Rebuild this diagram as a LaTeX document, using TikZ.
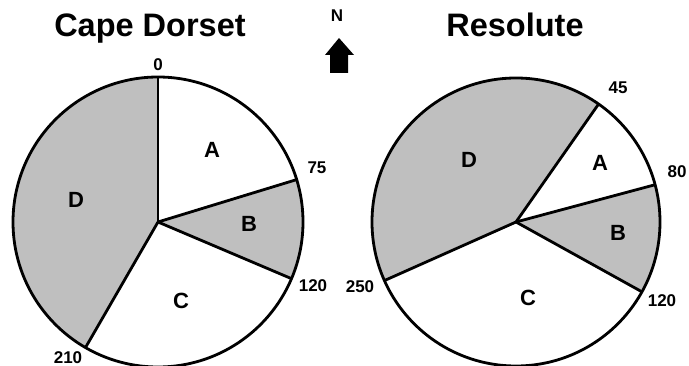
\documentclass[tikz,border=0pt]{standalone}
\usepackage{fontspec}
\setmainfont{Liberation Sans}
\usetikzlibrary{positioning}

\tikzset{
  title/.style={font=\fontsize{32.5}{32.5}\selectfont\bfseries,inner sep=0pt,anchor=base},
  seclabel/.style={font=\fontsize{22}{22}\selectfont\bfseries,inner sep=0pt},
  anglabel/.style={font=\fontsize{17}{17}\selectfont\bfseries,inner sep=0pt},
  piefill/.style={fill=black!25},
  pieline/.style={line width=2.8pt}
}

% one slice: centre, bearing from, bearing to, radius, style
\newcommand{\pieslice}[5]{
  \fill[#5] (#1) -- ++(#2-90:#4) arc[start angle=#2-90,end angle=#3-90,radius=#4] -- cycle;
}

\begin{document}
\begin{tikzpicture}[x=1pt,y=-1pt]
        \useasboundingbox (0,0) rectangle (689,366);
        \coordinate (cd) at (158,222);
        \coordinate (rs) at (516,222);

        % Cape Dorset
        \pieslice{cd}{0}{73}{145}{white}
        \pieslice{cd}{73}{113}{145}{piefill}
        \pieslice{cd}{113}{210}{145}{white}
        \pieslice{cd}{210}{360}{145}{piefill}
        \foreach \b in {0,73,113,210}
          \draw[pieline] (cd) -- ++(\b-90:145);
        \draw[pieline] (cd) circle[radius=145];

        % Resolute
        \pieslice{rs}{35}{75}{144}{white}
        \pieslice{rs}{75}{119}{144}{piefill}
        \pieslice{rs}{119}{246}{144}{white}
        \pieslice{rs}{246}{395}{144}{piefill}
        \foreach \b in {35,75,119,246}
          \draw[pieline] (rs) -- ++(\b-90:144);
        \draw[pieline] (rs) circle[radius=144];

        %% titles and north arrow
        \node[title] (cdtitle) at (150,37) {Cape Dorset};
        \node[title] (rstitle) at (515,37) {Resolute};
        \node[anglabel] (north) at (337,16) {N};
        \fill (339,38) -- (354,55) -- (348,55) -- (348,73) -- (330,73) -- (330,55) -- (325,55) -- cycle;

        %% sector letters
        \node[seclabel] (cda) at (212,150) {A};
        \node[seclabel] (cdb) at (249,224) {B};
        \node[seclabel] (cdc) at (181,301) {C};
        \node[seclabel] (cdd) at (76,200) {D};
        \node[seclabel] (rsa) at (600,163) {A};
        \node[seclabel] (rsb) at (618,233) {B};
        \node[seclabel] (rsc) at (528,298) {C};
        \node[seclabel] (rsd) at (469,160) {D};

        %% bearings
        \node[anglabel] (cd0) at (158,65) {0};
        \node[anglabel] (cd75) at (317,168) {75};
        \node[anglabel] (cd120) at (313,286) {120};
        \node[anglabel] (cd210) at (68,358) {210};
        \node[anglabel] (rs45) at (618,88) {45};
        \node[anglabel] (rs80) at (677,172) {80};
        \node[anglabel] (rs120) at (662,301) {120};
        \node[anglabel] (rs250) at (360,287) {250};
      \end{tikzpicture}
\end{document}
